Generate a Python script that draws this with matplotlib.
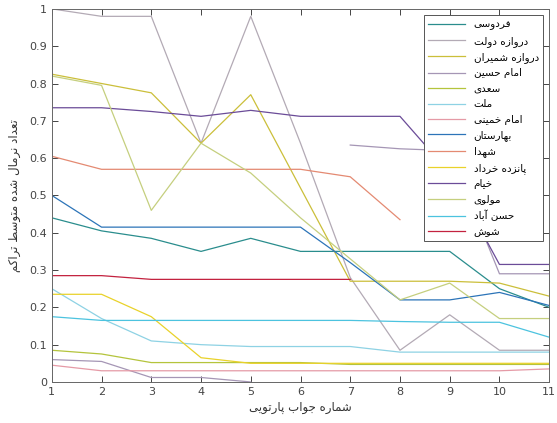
import matplotlib
matplotlib.use("Agg")
import matplotlib.pyplot as plt
import numpy as np

nan = np.nan

## Pareto solution index and normalised congestion per station
solution_no = np.arange(1, 12)

ferdowsi          = [0.44, 0.405, 0.385, 0.35, 0.385, 0.35, 0.35, 0.35, 0.35, 0.25, 0.20]
darvazeh_dowlat   = [1.0, 0.98, 0.98, 0.64, 0.98, 0.64, 0.28, 0.085, 0.18, 0.085, 0.085]
darvazeh_shemiran = [0.825, 0.80, 0.775, 0.64, 0.77, 0.52, 0.27, 0.27, 0.27, 0.265, 0.23]
imam_hossein      = [0.06, 0.055, 0.012, 0.012, 0.0, nan, 0.635, 0.625, 0.62, 0.29, 0.29]
saadi             = [0.085, 0.075, 0.052, 0.052, 0.052, 0.052, 0.047, 0.047, 0.047, 0.047, 0.047]
mellat            = [0.25, 0.17, 0.11, 0.10, 0.095, 0.095, 0.095, 0.08, 0.08, 0.08, 0.08]
imam_khomeini     = [0.045, 0.03, 0.03, 0.03, 0.03, 0.03, 0.03, 0.03, 0.03, 0.03, 0.035]
baharestan        = [0.5, 0.415, 0.415, 0.415, 0.415, 0.415, 0.32, 0.22, 0.22, 0.24, 0.205]
shohada           = [0.605, 0.57, 0.57, 0.57, 0.57, 0.57, 0.55, 0.435, nan, nan, nan]
panzdah_khordad   = [0.235, 0.235, 0.175, 0.065, 0.05, 0.05, 0.05, 0.05, 0.05, 0.05, 0.05]
khayyam           = [0.735, 0.735, 0.725, 0.712, 0.728, 0.712, 0.712, 0.712, 0.56, 0.315, 0.315]
molavi            = [0.82, 0.795, 0.46, 0.64, 0.56, 0.44, 0.33, 0.22, 0.265, 0.17, 0.17]
hasan_abad        = [0.175, 0.165, 0.165, 0.165, 0.165, 0.165, 0.165, 0.162, 0.16, 0.16, 0.12]
shush             = [0.285, 0.285, 0.275, 0.275, 0.275, 0.275, 0.275, nan, nan, nan, nan]

stations = ["فردوسی", "دروازه دولت", "دروازه شمیران", "امام حسین", "سعدی", "ملت",
            "امام خمینی", "بهارستان", "شهدا", "پانزده خرداد", "خیام", "مولوی",
            "حسن آباد", "شوش"]
series = [ferdowsi, darvazeh_dowlat, darvazeh_shemiran, imam_hossein, saadi, mellat,
          imam_khomeini, baharestan, shohada, panzdah_khordad, khayyam, molavi,
          hasan_abad, shush]
colors = ["#2a8d8d", "#b3aab5", "#cbbf3a", "#a596b5", "#b4c43c", "#8ed2e4",
          "#e59aa6", "#2c74b8", "#e48a72", "#e9d22a", "#6b4c98", "#c5cf7e",
          "#4cc3df", "#c3223f"]

xlabel_text = "شماره جواب پارتویی"
ylabel_text = "تعداد نرمال شده متوسط تراکم"

## matplotlib has no Arabic shaping, so pick presentation forms by hand
## (isolated, final, initial, medial); two-form letters never join forward
FORMS = {
    "ا": "\uFE8D\uFE8E", "آ": "\uFE81\uFE82", "د": "\uFEA9\uFEAA", "ر": "\uFEAD\uFEAE",
    "ز": "\uFEAF\uFEB0", "و": "\uFEED\uFEEE",
    "ب": "\uFE8F\uFE90\uFE91\uFE92", "پ": "\uFB56\uFB57\uFB58\uFB59",
    "ت": "\uFE95\uFE96\uFE97\uFE98", "ج": "\uFE9D\uFE9E\uFE9F\uFEA0",
    "ح": "\uFEA1\uFEA2\uFEA3\uFEA4", "خ": "\uFEA5\uFEA6\uFEA7\uFEA8",
    "س": "\uFEB1\uFEB2\uFEB3\uFEB4", "ش": "\uFEB5\uFEB6\uFEB7\uFEB8",
    "ط": "\uFEC1\uFEC2\uFEC3\uFEC4", "ع": "\uFEC9\uFECA\uFECB\uFECC",
    "ف": "\uFED1\uFED2\uFED3\uFED4", "ک": "\uFB8E\uFB8F\uFB90\uFB91",
    "ل": "\uFEDD\uFEDE\uFEDF\uFEE0", "م": "\uFEE1\uFEE2\uFEE3\uFEE4",
    "ن": "\uFEE5\uFEE6\uFEE7\uFEE8", "ه": "\uFEE9\uFEEA\uFEEB\uFEEC",
    "ی": "\uFBFC\uFBFD\uFBFE\uFBFF",
}

def fa(text):
    out = []
    for i, ch in enumerate(text):
        if ch not in FORMS:
            out.append(ch)
            continue
        prev = text[i - 1] if i > 0 else ""
        nxt = text[i + 1] if i + 1 < len(text) else ""
        join_prev = prev in FORMS and len(FORMS[prev]) == 4
        join_next = len(FORMS[ch]) == 4 and nxt in FORMS
        f = FORMS[ch]
        if join_prev and join_next:
            out.append(f[3])
        elif join_prev:
            out.append(f[1])
        elif join_next:
            out.append(f[2])
        else:
            out.append(f[0])
    return "".join(out)[::-1]

matplotlib.rcParams.update({'font.size': 8, 'font.family': 'DejaVu Sans'})

fig = plt.figure(figsize=(5.57, 4.23), dpi=100)
ax = fig.add_axes([0.093, 0.097, 0.893, 0.882])

for values, name, c in zip(series, stations, colors):
    ax.plot(solution_no, values, color=c, linewidth=0.9, label=fa(name))

ax.set_xlim(1, 11)
ax.set_ylim(0, 1)
ax.set_xticks(solution_no)
ax.set_yticks(np.round(np.arange(0, 1.01, 0.1), 1))
ax.set_yticklabels(["0"] + ["%.1f" % v for v in np.arange(0.1, 0.95, 0.1)] + ["1"])

# boxed axes with inward ticks on all four sides
ax.tick_params(direction='in', top=True, right=True, length=4, width=0.7,
               colors='#444444', labelsize=8)
for s in ax.spines.values():
    s.set_color('#666666')
    s.set_linewidth(0.7)

ax.set_xlabel(fa(xlabel_text), fontsize=8.5, color='#333333', labelpad=3)
ax.set_ylabel(fa(ylabel_text), fontsize=8.5, color='#333333', labelpad=6)

leg = ax.legend(loc='upper right', fontsize=7.5, handlelength=3.6, labelspacing=0.52,
                borderaxespad=0.6, fancybox=False, framealpha=1, edgecolor='#555555')
leg.get_frame().set_linewidth(0.7)

fig.savefig("out.png", dpi=100)
